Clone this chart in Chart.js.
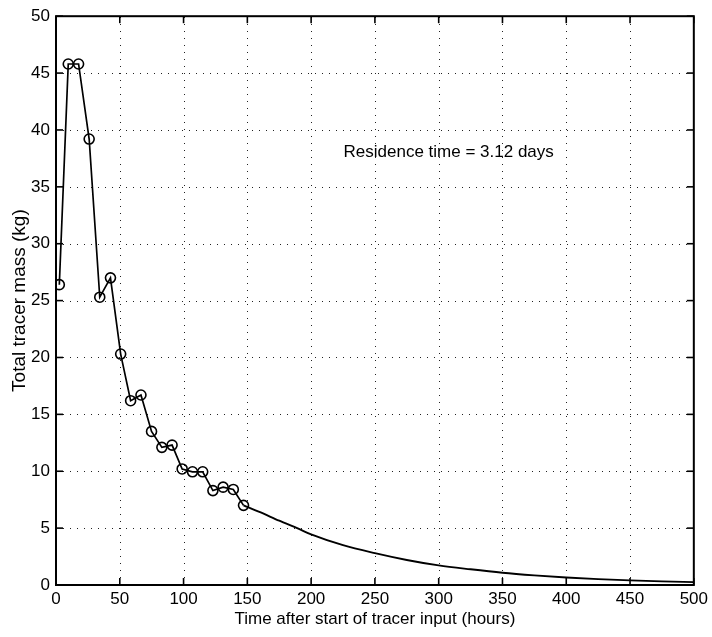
<!DOCTYPE html>
<html>
<head>
<meta charset="utf-8">
<script src="https://cdn.jsdelivr.net/npm/chart.js@4.4.1/dist/chart.umd.min.js"></script>
<style>
  html, body { margin: 0; padding: 0; background: #fff; }
  #wrap { width: 712px; height: 637px; }
</style>
</head>
<body>
<div id="wrap"><canvas id="tracerChart" width="712" height="637"></canvas></div>
<script>
// measured samples (circles)
const sampleHours = [2.6, 9.6, 17.7, 26.0, 34.3, 42.7, 50.7, 58.5, 66.6, 74.9, 83.0, 91.0, 98.9, 107.0, 115.0, 123.0, 131.0, 139.0, 147.0];
const sampleMass = [26.4, 45.8, 45.8, 39.2, 25.3, 27.0, 20.3, 16.2, 16.7, 13.5, 12.1, 12.3, 10.2, 9.95, 9.95, 8.3, 8.6, 8.4, 7.0];

// fitted decay tail (solid line, no markers)
const tailHours = [147, 160, 175, 190, 200, 225, 250, 275, 300, 325, 350, 375, 400, 425, 450, 475, 500];
const tailMass = [7.0, 6.4, 5.65, 4.95, 4.45, 3.5, 2.8, 2.2, 1.72, 1.38, 1.08, 0.85, 0.66, 0.52, 0.41, 0.32, 0.25];

const xTicks = [0, 50, 100, 150, 200, 250, 300, 350, 400, 450, 500];
const yTicks = [0, 5, 10, 15, 20, 25, 30, 35, 40, 45, 50];

const xTitle = 'Time after start of tracer input (hours)';
const yTitle = 'Total tracer mass (kg)';
const noteText = 'Residence time = 3.12 days';
const notePos = { x: 225.4, y: 38.0 };

Chart.defaults.font.family = '"Liberation Sans", Arial, Helvetica, sans-serif';
Chart.defaults.font.size = 17;
Chart.defaults.color = '#000';

// dotted grid, box frame, inward ticks (matlab look) + text note
const frameGrid = {
  id: 'frameGrid',
  beforeDatasetsDraw(chart) {
    const ctx = chart.ctx;
    const a = chart.chartArea;
    const xs = chart.scales.x, ys = chart.scales.y;
    ctx.save();
    ctx.strokeStyle = '#222';
    ctx.lineWidth = 1;
    ctx.setLineDash([1, 6]);
    xTicks.forEach(v => {
      if (v === xs.min || v === xs.max) return;
      const px = Math.round(xs.getPixelForValue(v)) + 0.5;
      ctx.beginPath(); ctx.moveTo(px, a.bottom); ctx.lineTo(px, a.top); ctx.stroke();
    });
    yTicks.forEach(v => {
      if (v === ys.min || v === ys.max) return;
      const py = Math.round(ys.getPixelForValue(v)) + 0.5;
      ctx.beginPath(); ctx.moveTo(a.left, py); ctx.lineTo(a.right, py); ctx.stroke();
    });
    ctx.restore();
  },
  afterDatasetsDraw(chart) {
    const ctx = chart.ctx;
    const a = chart.chartArea;
    const xs = chart.scales.x, ys = chart.scales.y;
    const tl = 7;
    ctx.save();
    ctx.strokeStyle = '#000';
    ctx.lineWidth = 2;
    ctx.setLineDash([]);
    ctx.strokeRect(a.left, a.top, a.right - a.left, a.bottom - a.top);
    ctx.lineWidth = 1.6;
    xTicks.forEach(v => {
      const px = xs.getPixelForValue(v);
      ctx.beginPath(); ctx.moveTo(px, a.bottom); ctx.lineTo(px, a.bottom - tl); ctx.stroke();
      ctx.beginPath(); ctx.moveTo(px, a.top); ctx.lineTo(px, a.top + tl); ctx.stroke();
    });
    yTicks.forEach(v => {
      const py = ys.getPixelForValue(v);
      ctx.beginPath(); ctx.moveTo(a.left, py); ctx.lineTo(a.left + tl, py); ctx.stroke();
      ctx.beginPath(); ctx.moveTo(a.right, py); ctx.lineTo(a.right - tl, py); ctx.stroke();
    });
    // note
    ctx.fillStyle = '#000';
    ctx.font = '17px "Liberation Sans", Arial, sans-serif';
    ctx.textAlign = 'left';
    ctx.textBaseline = 'middle';
    ctx.fillText(noteText, xs.getPixelForValue(notePos.x), ys.getPixelForValue(notePos.y));
    ctx.restore();
  }
};

const ctxT = document.getElementById('tracerChart');
const tracerChart = new Chart(ctxT, {
  type: 'scatter',
  data: {
    datasets: [
      {
        label: 'samples',
        data: sampleHours.map((h, i) => ({ x: h, y: sampleMass[i] })),
        showLine: true,
        borderColor: '#000',
        borderWidth: 1.7,
        pointRadius: 5,
        pointBorderWidth: 1.6,
        pointBorderColor: '#000',
        pointBackgroundColor: 'rgba(0,0,0,0)',
        tension: 0
      },
      {
        label: 'tail',
        data: tailHours.map((h, i) => ({ x: h, y: tailMass[i] })),
        showLine: true,
        borderColor: '#000',
        borderWidth: 1.9,
        pointRadius: 0,
        cubicInterpolationMode: 'monotone'
      }
    ]
  },
  options: {
    responsive: false,
    animation: false,
    layout: { padding: { top: 15, right: 12, left: 0, bottom: 0 } },
    plugins: {
      legend: { display: false },
      tooltip: { enabled: false }
    },
    scales: {
      x: {
        type: 'linear',
        min: 0,
        max: 500,
        afterBuildTicks: s => { s.ticks = xTicks.map(v => ({ value: v })); },
        afterFit: s => { s.height = 52; },
        grid: { display: false, drawTicks: false },
        border: { display: false },
        ticks: { padding: 4, maxRotation: 0, autoSkip: false },
        title: { display: true, text: xTitle, padding: { top: 0, bottom: 7 } }
      },
      y: {
        type: 'linear',
        min: 0,
        max: 50,
        afterBuildTicks: s => { s.ticks = yTicks.map(v => ({ value: v })); },
        afterFit: s => { s.width = 56; },
        grid: { display: false, drawTicks: false },
        border: { display: false },
        ticks: { padding: 6, autoSkip: false },
        title: { display: true, text: yTitle, font: { size: 19 }, padding: { top: 8, bottom: 0 } }
      }
    }
  },
  plugins: [frameGrid]
});
</script>
</body>
</html>
